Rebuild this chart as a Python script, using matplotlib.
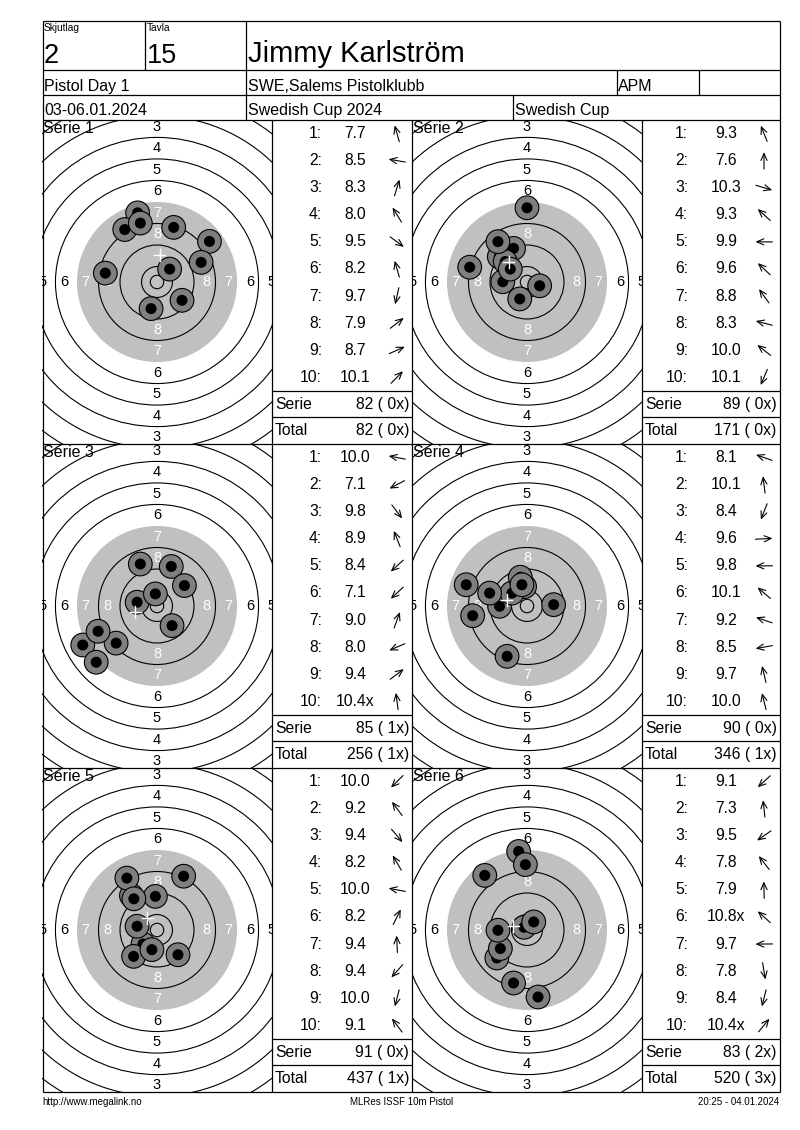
import matplotlib
matplotlib.use('Agg')
import matplotlib.pyplot as plt
from matplotlib.patches import Circle
import numpy as np

plt.rcParams['font.family'] = ['Liberation Sans', 'DejaVu Sans']

W, H = 800, 1130

# ---------------- header data ----------------
squad_label, squad = "Skjutlag", "2"
lane_label, lane = "Tavla", "15"
shooter = "Jimmy Karlström"
event = "Pistol Day 1"
club = "SWE,Salems Pistolklubb"
klass = "APM"
dates = "03-06.01.2024"
competition = "Swedish Cup 2024"
cup = "Swedish Cup"
footer_left = "http://www.megalink.no"
footer_mid = "MLRes ISSF 10m Pistol"
footer_right = "20:25 - 04.01.2024"

# ---------------- series data ----------------
series_names = ["Serie 1", "Serie 2", "Serie 3", "Serie 4", "Serie 5", "Serie 6"]
shot_labels = ["1:", "2:", "3:", "4:", "5:", "6:", "7:", "8:", "9:", "10:"]

serie1_scores = ["7.7", "8.5", "8.3", "8.0", "9.5", "8.2", "9.7", "7.9", "8.7", "10.1"]
serie2_scores = ["9.3", "7.6", "10.3", "9.3", "9.9", "9.6", "8.8", "8.3", "10.0", "10.1"]
serie3_scores = ["10.0", "7.1", "9.8", "8.9", "8.4", "7.1", "9.0", "8.0", "9.4", "10.4x"]
serie4_scores = ["8.1", "10.1", "8.4", "9.6", "9.8", "10.1", "9.2", "8.5", "9.7", "10.0"]
serie5_scores = ["10.0", "9.2", "9.4", "8.2", "10.0", "8.2", "9.4", "9.4", "10.0", "9.1"]
serie6_scores = ["9.1", "7.3", "9.5", "7.8", "7.9", "10.8x", "9.7", "7.8", "8.4", "10.4x"]

# shot positions on the target, mm from centre (x right, y up)
serie1_x = [-7.2, -19.2, 6.2, -12.0, 9.3, -6.2, -2.2, 19.5, 16.4, 4.7]
serie1_y = [25.7, 3.3, 20.3, 19.5, -6.8, 21.9, -9.9, 15.1, 7.3, 4.8]
serie2_x = [-5.0, 0.0, 4.7, -10.3, -9.0, -8.1, -10.8, -21.3, -6.2, -2.7]
serie2_y = [12.5, 27.6, -1.4, 9.4, 0.1, 7.6, 15.0, 5.5, 4.8, -6.3]
serie3_x = [-7.4, -27.6, 5.6, -6.2, -15.2, -22.6, 5.3, -21.9, 10.2, -0.6]
serie3_y = [1.4, -14.5, -7.3, 15.6, -13.8, -20.9, 14.7, -9.4, 7.6, 4.5]
serie4_x = [-22.6, -0.9, -7.4, 9.9, -10.2, -5.6, -13.9, -20.2, -2.5, -1.9]
serie4_y = [7.9, 7.2, -18.7, 0.5, -0.1, 4.8, 4.8, -3.6, 10.7, 7.9]
serie5_x = [-5.2, -9.5, 7.8, -11.2, -7.4, 9.9, -0.6, -8.7, -1.9, -8.6]
serie5_y = [-5.2, 12.8, -9.2, 19.3, 1.4, 20.0, 12.5, -9.8, -7.3, 11.6]
serie6_x = [-11.2, -3.1, -9.9, -15.7, -0.6, -1.1, -10.8, 4.1, -5.0, 2.5]
serie6_y = [-10.4, 29.2, -6.9, 20.3, 24.3, 1.0, -0.1, -24.9, -19.7, 3.0]

all_scores = [serie1_scores, serie2_scores, serie3_scores,
              serie4_scores, serie5_scores, serie6_scores]
all_x = [serie1_x, serie2_x, serie3_x, serie4_x, serie5_x, serie6_x]
all_y = [serie1_y, serie2_y, serie3_y, serie4_y, serie5_y, serie6_y]

# ISSF 10 m pistol target ring radii (mm), rings 1..10, and inner ten
ring_radii = [77.75, 69.75, 61.75, 53.75, 45.75, 37.75, 29.75, 21.75, 13.75, 5.75]
inner_ten = 2.5

# ---------------- layout ----------------
PX_PER_MM = 2.69
LEFT, RIGHT, TOP_H, BOT = 42.5, 779.5, 21, 1092
PANEL_TOP = 120
PANEL_H = 324
TGT_W = 230
COL_LEFT = [42, 412]
TABLE_RIGHT = [412, 779.5]
ROW_H = 27.08
SUM_H = (PANEL_H - 10 * ROW_H) / 2

fig = plt.figure(figsize=(W / 100, H / 100), dpi=100)
fig.patch.set_facecolor('white')

lay = fig.add_axes([0, 0, 1, 1], zorder=5)
lay.set_xlim(0, W)
lay.set_ylim(H, 0)
lay.axis('off')
lay.patch.set_alpha(0)

LW = 0.9
def hline(y, x0, x1):
    lay.plot([x0, x1], [y, y], color='black', lw=LW, solid_capstyle='butt')
def vline(x, y0, y1):
    lay.plot([x, x], [y0, y1], color='black', lw=LW, solid_capstyle='butt')

# outer frame + header grid
hline(TOP_H, LEFT, RIGHT)
hline(BOT, LEFT, RIGHT)
vline(LEFT, TOP_H, BOT)
vline(RIGHT, TOP_H, BOT)
hline(70, LEFT, RIGHT)
hline(95, LEFT, RIGHT)
hline(120, LEFT, RIGHT)
vline(144.5, TOP_H, 70)
vline(246, TOP_H, 120)
vline(616.5, 70, 95)
vline(699, 70, 95)
vline(513, 95, 120)

# header text
lay.text(44, 28, squad_label, fontsize=7.3, va='center', ha='left')
lay.text(147, 28, lane_label, fontsize=7.3, va='center', ha='left')
lay.text(43.5, 63, squad, fontsize=19.5, va='baseline', ha='left')
lay.text(147, 63, lane, fontsize=19.5, va='baseline', ha='left')
lay.text(248, 62, shooter, fontsize=21, va='baseline', ha='left')
lay.text(44, 91, event, fontsize=11.5, va='baseline', ha='left')
lay.text(248, 91, club, fontsize=11.5, va='baseline', ha='left')
lay.text(618, 91, klass, fontsize=11.5, va='baseline', ha='left')
lay.text(44, 115, dates, fontsize=11.5, va='baseline', ha='left')
lay.text(248, 115, competition, fontsize=11.5, va='baseline', ha='left')
lay.text(515, 115, cup, fontsize=11.5, va='baseline', ha='left')

# footer
lay.text(42, 1102, footer_left, fontsize=7, va='center', ha='left')
lay.text(402, 1102, footer_mid, fontsize=7, va='center', ha='center')
lay.text(779, 1102, footer_right, fontsize=7, va='center', ha='right')

# panel grid lines
for row in range(1, 3):
    hline(PANEL_TOP + row * PANEL_H, LEFT, RIGHT)
for x in [272, 412, 642]:
    vline(x, PANEL_TOP, BOT)

half_x = TGT_W / 2 / PX_PER_MM
half_y = PANEL_H / 2 / PX_PER_MM

total = 0
total_x = 0
for i in range(6):
    col, row = i % 2, i // 2
    left = COL_LEFT[col]
    top = PANEL_TOP + row * PANEL_H
    tleft = left + TGT_W
    tright = TABLE_RIGHT[col]

    # ---- target ----
    ax = fig.add_axes([left / W, 1 - (top + PANEL_H) / H, TGT_W / W, PANEL_H / H], zorder=1)
    ax.set_xlim(-half_x, half_x)
    ax.set_ylim(-half_y, half_y)
    ax.set_aspect('auto')
    ax.axis('off')
    ax.add_patch(Circle((0, 0), ring_radii[6], fc='#c0c0c0', ec='none', zorder=1))
    for k, r in enumerate(ring_radii):
        if k == 6:
            continue
        ax.add_patch(Circle((0, 0), r, fill=False, ec='black', lw=0.8, zorder=2))
    ax.add_patch(Circle((0, 0), inner_ten, fill=False, ec='black', lw=0.8, zorder=2))
    for n in range(1, 9):
        rm = (ring_radii[n - 1] + ring_radii[n]) / 2
        c = 'white' if n >= 7 else 'black'
        rh = rm + 0.8
        for (px, py) in [(0, rm), (0, -rm), (rh, 0), (-rh, 0)]:
            if abs(px) > half_x + 1.5 or abs(py) > half_y + 2.0:
                continue
            ax.text(px, py, str(n), fontsize=10.5, color=c, ha='center', va='center',
                    zorder=2.5, clip_on=True)
    xs, ys = all_x[i], all_y[i]
    for j, (sx, sy) in enumerate(zip(xs, ys)):
        z = 3 + j * 0.01
        ax.add_patch(Circle((sx, sy), 4.4, fc='#7f7f7f', ec='black', lw=0.8, zorder=z))
        ax.add_patch(Circle((sx, sy), 2.05, fc='black', ec='none', zorder=z + 0.005))
    mx, my = np.mean(xs), np.mean(ys)
    ax.plot([mx - 2.1, mx + 2.1], [my, my], color='white', lw=1.0, zorder=4)
    ax.plot([mx, mx], [my - 2.2, my + 2.2], color='white', lw=1.0, zorder=4)

    lay.text(left + 1, top + 8.5, series_names[i], fontsize=11.5, ha='left', va='center')

    # ---- table ----
    scores = all_scores[i]
    num_right = tleft + 50 if col == 0 else tleft + 46
    val_c = tleft + 83 if col == 0 else tleft + 84
    arr_c = tleft + 125 if col == 0 else tleft + 122
    for j in range(10):
        cy = top + (j + 0.5) * ROW_H
        lay.text(num_right, cy, shot_labels[j], fontsize=11.3, ha='right', va='center')
        lay.text(val_c, cy, scores[j], fontsize=11.3, ha='center', va='center')
        th = np.arctan2(all_y[i][j], all_x[i][j])
        dx, dy = np.cos(th), -np.sin(th)
        L = 8.5
        lay.annotate('', xy=(arr_c + L * dx, cy + L * dy), xytext=(arr_c - L * dx, cy - L * dy),
                     arrowprops=dict(arrowstyle='->,head_length=0.5,head_width=0.22',
                                     lw=0.8, color='black', shrinkA=0, shrinkB=0,
                                     mutation_scale=10))
    s_sum = sum(int(float(s.rstrip('x'))) for s in scores)
    s_x = sum(1 for s in scores if s.endswith('x'))
    total += s_sum
    total_x += s_x
    y1 = top + 10 * ROW_H
    y2 = y1 + SUM_H
    hline(y1, tleft, tright)
    hline(y2, tleft, tright)
    lay.text(tleft + 3, y1 + SUM_H / 2, "Serie", fontsize=11.3, ha='left', va='center')
    lay.text(tright - 3, y1 + SUM_H / 2, f"{s_sum} ( {s_x}x)", fontsize=11.3, ha='right', va='center')
    lay.text(tleft + 3, y2 + SUM_H / 2, "Total", fontsize=11.3, ha='left', va='center')
    lay.text(tright - 3, y2 + SUM_H / 2, f"{total} ( {total_x}x)", fontsize=11.3, ha='right', va='center')

fig.savefig('out.png', dpi=100, facecolor='white')
